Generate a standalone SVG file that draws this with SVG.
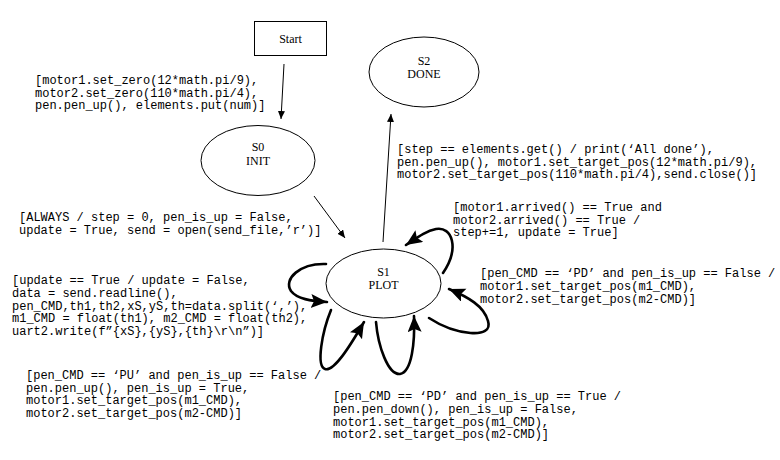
<svg xmlns="http://www.w3.org/2000/svg" width="780" height="460" viewBox="0 0 780 460">
<style>
.node{fill:#fff;stroke:#000;stroke-width:1}
.nl{font-family:"Liberation Serif","Times New Roman",serif;font-size:12px;fill:#000;text-anchor:middle}
.code{font-family:"Liberation Mono","Courier New",monospace;font-size:12px;fill:#000}
.thin{fill:none;stroke:#000;stroke-width:1}
.thick{fill:none;stroke:#000;stroke-width:2.6;stroke-linecap:round}
</style>
<defs>
<marker id="ah" markerUnits="userSpaceOnUse" markerWidth="10" markerHeight="8" refX="8" refY="3.5" orient="auto">
<path d="M0,0 L8,3.5 L0,7 Z" fill="#000"/>
</marker>
<marker id="ahb" markerUnits="userSpaceOnUse" markerWidth="18" markerHeight="16" refX="16" refY="7" orient="auto">
<path d="M0,0 L16,7 L0,14 L3,7 Z" fill="#000"/>
</marker>
</defs>
<rect width="780" height="460" fill="#fff"/>
<g id="connectors">
<path class="thin" d="M284,64 L281,119" marker-end="url(#ah)"/>
<path class="thin" d="M314,196 L345,238" marker-end="url(#ah)"/>
<path class="thin" d="M383,242 L391,114" marker-end="url(#ah)"/>
<path class="thick" d="M443,273 C460,248 452,226 436,229 C426,231 418,237 406,245" marker-end="url(#ahb)"/>
<path class="thick" d="M429,318 C455,335 494,340 488,321 C484,306 468,297 449,289" marker-end="url(#ahb)"/>
<path class="thick" d="M326,264 C300,263 283,279 291,291 C297,299 311,301 327,302" marker-end="url(#ahb)"/>
<path class="thick" d="M331,310 C322,332 316,366 325,369 C334,372 350,346 364,322" marker-end="url(#ahb)"/>
<path class="thick" d="M376,322 C378,346 388,375 400,374 C412,372 415,342 414,316" marker-end="url(#ahb)"/>
</g>
<g id="start">
<rect class="node" x="254.5" y="21.5" width="72" height="34"/>
<text class="nl" x="290.5" y="42.5">Start</text>
</g>
<g id="s0">
<ellipse class="node" cx="258" cy="160.5" rx="57" ry="35"/>
<text class="nl" x="258" y="151">S0</text>
<text class="nl" x="258" y="165">INIT</text>
</g>
<g id="s2">
<ellipse class="node" cx="424" cy="72" rx="55" ry="35"/>
<text class="nl" x="424" y="64.5">S2</text>
<text class="nl" x="424" y="78">DONE</text>
</g>
<g id="s1">
<ellipse class="node" cx="383.5" cy="283.5" rx="57.5" ry="34.5"/>
<text class="nl" x="383.5" y="276">S1</text>
<text class="nl" x="383.5" y="289">PLOT</text>
</g>
<g id="labels">
<text class="code" x="35" y="84">[motor1.set_zero(12*math.pi/9),</text>
<text class="code" x="35" y="96.5">motor2.set_zero(110*math.pi/4),</text>
<text class="code" x="35" y="109">pen.pen_up(), elements.put(num)]</text>

<text class="code" x="397" y="153">[step == elements.get() / print(‘All done’),</text>
<text class="code" x="397" y="165.5">pen.pen_up(), motor1.set_target_pos(12*math.pi/9),</text>
<text class="code" x="397" y="178">motor2.set_target_pos(110*math.pi/4),send.close()]</text>

<text class="code" x="453" y="211">[motor1.arrived() == True and</text>
<text class="code" x="453" y="223.5">motor2.arrived() == True /</text>
<text class="code" x="453" y="236">step+=1, update = True]</text>

<text class="code" x="19" y="221">[ALWAYS / step = 0, pen_is_up = False,</text>
<text class="code" x="19" y="233.5">update = True, send = open(send_file,’r’)]</text>

<text class="code" x="12" y="284">[update == True / update = False,</text>
<text class="code" x="12" y="297">data = send.readline(),</text>
<text class="code" x="12" y="309.5">pen_CMD,th1,th2,xS,yS,th=data.split(‘,’),</text>
<text class="code" x="12" y="322">m1_CMD = float(th1), m2_CMD = float(th2),</text>
<text class="code" x="12" y="335">uart2.write(f”{xS},{yS},{th}\r\n”)]</text>

<text class="code" x="480" y="277">[pen_CMD == ‘PD’ and pen_is_up == False /</text>
<text class="code" x="480" y="290">motor1.set_target_pos(m1_CMD),</text>
<text class="code" x="480" y="302.5">motor2.set_target_pos(m2-CMD)]</text>

<text class="code" x="26" y="379">[pen_CMD == ‘PU’ and pen_is_up == False /</text>
<text class="code" x="26" y="391.5">pen.pen_up(), pen_is_up = True,</text>
<text class="code" x="26" y="404">motor1.set_target_pos(m1_CMD),</text>
<text class="code" x="26" y="416.5">motor2.set_target_pos(m2-CMD)]</text>

<text class="code" x="333" y="400">[pen_CMD == ‘PD’ and pen_is_up == True /</text>
<text class="code" x="333" y="413">pen.pen_down(), pen_is_up = False,</text>
<text class="code" x="333" y="425.5">motor1.set_target_pos(m1_CMD),</text>
<text class="code" x="333" y="438">motor2.set_target_pos(m2-CMD)]</text>
</g>
</svg>
